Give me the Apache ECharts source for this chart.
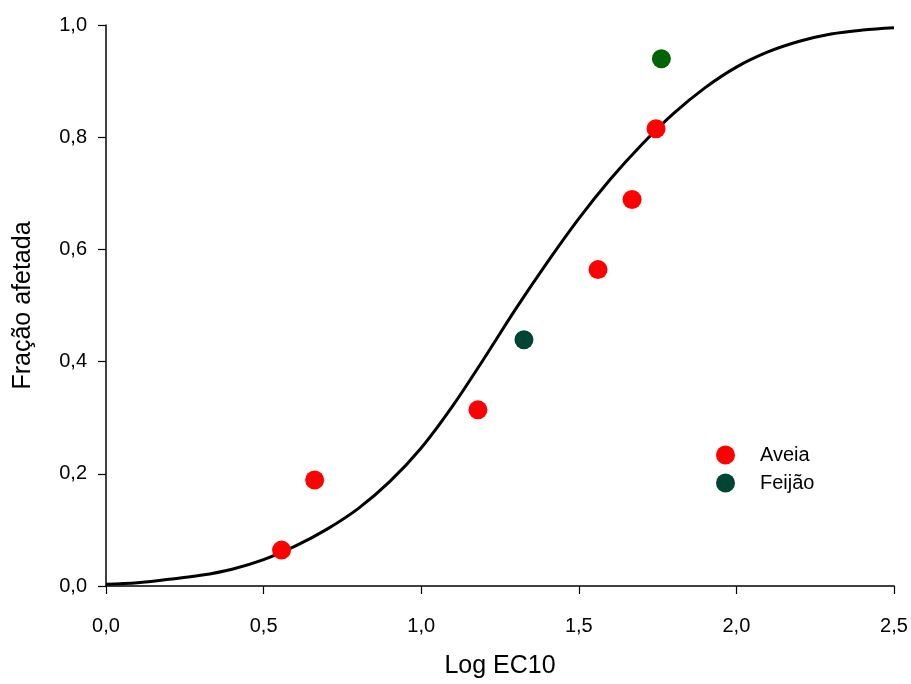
<!DOCTYPE html>
<html>
<head>
<meta charset="utf-8">
<script src="https://cdn.jsdelivr.net/npm/echarts@6/dist/echarts.min.js"></script>
<style>
  html, body { margin: 0; padding: 0; background: #fff; }
  #chart { width: 911px; height: 684px; }
</style>
</head>
<body>
<div id="chart"></div>
<script>
// fitted curve (x = Log EC10, y = fraction affected)
const curveX = [0, 0.1, 0.2, 0.3, 0.4, 0.5, 0.6, 0.7, 0.8, 0.9, 1.0, 1.1, 1.2, 1.3, 1.4, 1.5, 1.6, 1.7, 1.8, 1.9, 2.0, 2.1, 2.2, 2.3, 2.4, 2.5]
const curveY = [0.003, 0.006, 0.012, 0.019, 0.03, 0.047, 0.071, 0.101, 0.138, 0.186, 0.246, 0.321, 0.406, 0.494, 0.577, 0.655, 0.725, 0.787, 0.842, 0.888, 0.925, 0.952, 0.971, 0.984, 0.991, 0.995]

const aveiaX = [0.557, 0.662, 1.180, 1.561, 1.669, 1.745]
const aveiaY = [0.064, 0.189, 0.314, 0.564, 0.689, 0.815]

const feijaoX = [1.326, 1.762]
const feijaoY = [0.439, 0.940]
const feijaoColors = ['#004433', '#006400']

const xTicks = [0, 0.5, 1.0, 1.5, 2.0, 2.5]
const yTicks = [0, 0.2, 0.4, 0.6, 0.8, 1.0]

const fmt = (v) => v.toFixed(1).replace('.', ',')
const font = 'Liberation Sans, Arial, sans-serif'

const chart = echarts.init(document.getElementById('chart'))

const option = {
  animation: false,
  backgroundColor: '#fff',
  grid: { left: 106, right: 17, top: 25, bottom: 97 },
  legend: {
    orient: 'vertical',
    left: 711,
    top: 440,
    itemWidth: 19,
    itemHeight: 19,
    itemGap: 8,
    data: [
      { name: 'Aveia', icon: 'circle' },
      { name: 'Feijão', icon: 'circle', itemStyle: { color: '#004433' } }
    ],
    textStyle: { fontFamily: font, fontSize: 20, color: '#000', padding: [0, 0, 0, 20] }
  },
  xAxis: {
    type: 'value',
    min: 0,
    max: 2.5,
    interval: 0.5,
    name: 'Log EC10',
    nameLocation: 'middle',
    nameGap: 68,
    nameTextStyle: { fontFamily: font, fontSize: 25, color: '#000' },
    axisLine: { onZero: false, lineStyle: { color: '#000', width: 1.5 } },
    axisTick: { show: true, length: 8, lineStyle: { color: '#000', width: 1.2 } },
    axisLabel: { fontFamily: font, fontSize: 20, color: '#000', margin: 30, formatter: fmt,
      customValues: xTicks },
    splitLine: { show: false }
  },
  yAxis: {
    type: 'value',
    min: 0,
    max: 1,
    interval: 0.2,
    name: 'Fração afetada',
    nameLocation: 'middle',
    nameGap: 70,
    nameTextStyle: { fontFamily: font, fontSize: 25, color: '#000' },
    axisLine: { show: true, onZero: false, lineStyle: { color: '#000', width: 1.5 } },
    axisTick: { show: true, length: 8, lineStyle: { color: '#000', width: 1.2 } },
    axisLabel: { fontFamily: font, fontSize: 20, color: '#000', margin: 19, formatter: fmt,
      customValues: yTicks },
    splitLine: { show: false }
  },
  series: [
    {
      name: 'curve',
      type: 'line',
      smooth: 0.35,
      showSymbol: false,
      silent: true,
      lineStyle: { color: '#000', width: 3 },
      data: curveX.map((x, i) => [x, curveY[i]]),
      z: 2
    },
    {
      name: 'Aveia',
      type: 'scatter',
      symbolSize: 19,
      itemStyle: { color: '#ff0000', opacity: 1 },
      data: aveiaX.map((x, i) => [x, aveiaY[i]]),
      z: 3
    },
    {
      name: 'Feijão',
      type: 'scatter',
      symbolSize: 19,
      itemStyle: { color: '#004433', opacity: 1 },
      data: feijaoX.map((x, i) => ({ value: [x, feijaoY[i]], itemStyle: { color: feijaoColors[i] } })),
      z: 3
    }
  ]
}

chart.setOption(option)
</script>
</body>
</html>
